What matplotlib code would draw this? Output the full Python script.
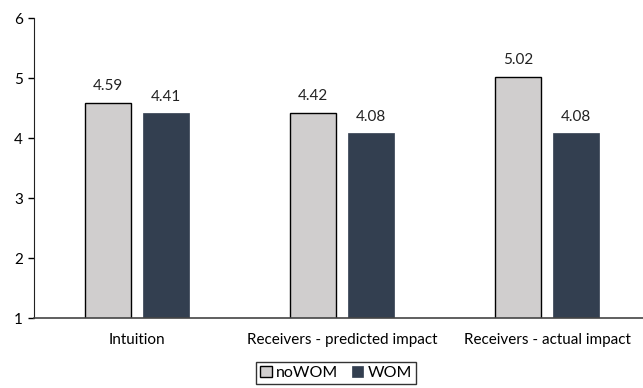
import numpy as np
import matplotlib.pyplot as plt

plt.rcParams['font.family'] = ['Lato', 'DejaVu Sans']

categories = ['Intuition', 'Receivers - predicted impact', 'Receivers - actual impact']
no_wom = [4.59, 4.42, 5.02]
wom = [4.41, 4.08, 4.08]
series_names = ['noWOM', 'WOM']

fig = plt.figure(figsize=(6.43, 3.88), dpi=100)
# right edge of the axes runs slightly past the figure border
ax = fig.add_axes([34 / 643, 70 / 388, 616 / 643, 300 / 388])

x = np.arange(len(categories))
width = 0.224
offset = 0.141

b1 = ax.bar(x - offset, no_wom, width, bottom=0, color='#D0CECE',
            edgecolor='black', linewidth=1.0, label=series_names[0])
b2 = ax.bar(x + offset, wom, width, color='#333F50',
            edgecolor='#333F50', linewidth=0.5, label=series_names[1])

for bars, vals in ((b1, no_wom), (b2, wom)):
    for rect, v in zip(bars, vals):
        ax.text(rect.get_x() + rect.get_width() / 2, v + 0.21, f'{v:.2f}',
                ha='center', va='baseline', fontsize=11, color='#222222')

ax.set_xlim(-0.5, len(categories) - 0.5)
ax.set_ylim(1, 6)
ax.set_yticks(range(1, 7))
ax.set_xticks(x)
ax.set_xticklabels(categories, fontsize=11)
ax.tick_params(axis='x', length=0, pad=11)
ax.tick_params(axis='y', length=4, width=1, labelsize=11, pad=4)

for side in ('top', 'right'):
    ax.spines[side].set_visible(False)
ax.spines['left'].set_color('#222222')
ax.spines['bottom'].set_color('#444444')
ax.spines['bottom'].set_linewidth(1.2)

leg = fig.legend(handles=[b1, b2], loc='center', bbox_to_anchor=(336 / 643, 1 - 373 / 388),
                 ncol=2, frameon=True, fancybox=False, fontsize=11.5,
                 handlelength=0.7, handleheight=0.7, handletextpad=0.25,
                 columnspacing=0.9, borderpad=0.25, borderaxespad=0)
leg.get_frame().set_edgecolor('black')
leg.get_frame().set_linewidth(1.0)

fig.savefig('out.png', dpi=100)
